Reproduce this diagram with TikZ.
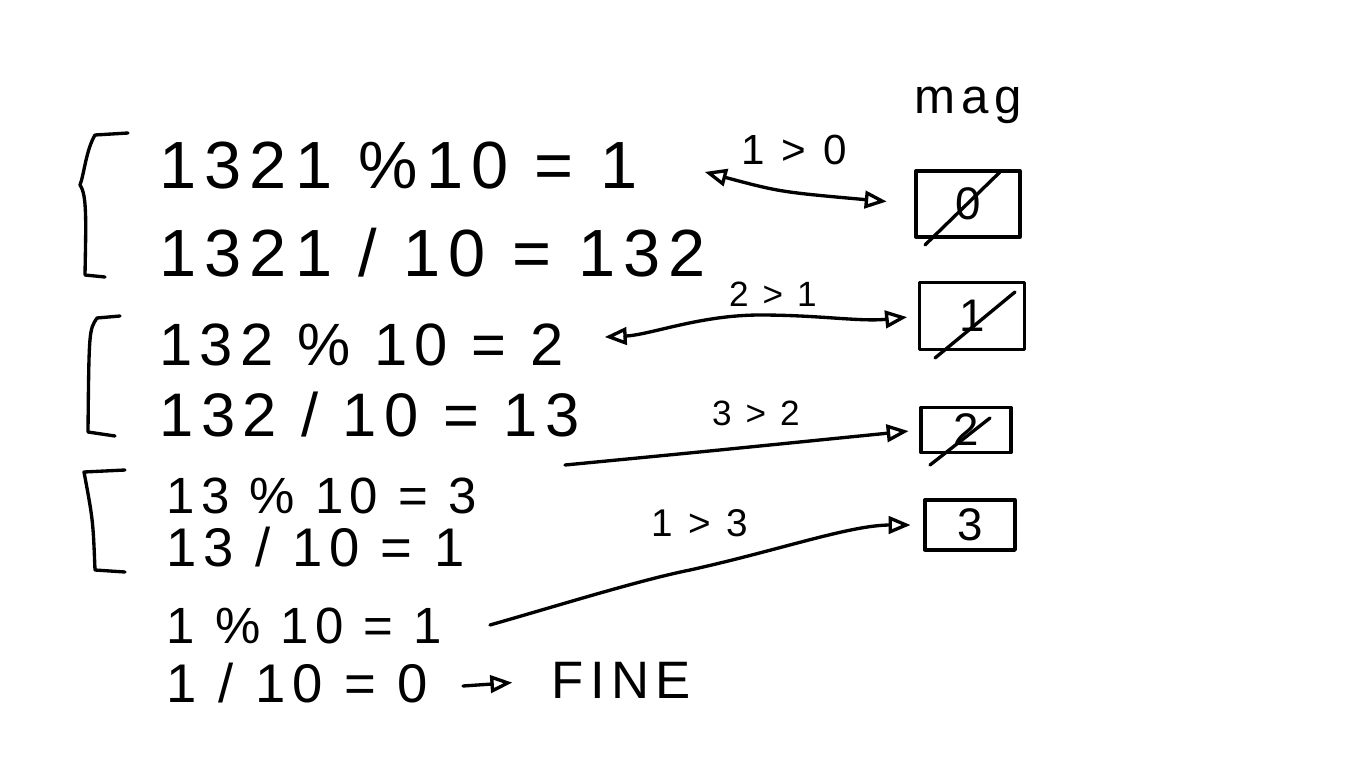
\documentclass[tikz,border=0pt]{standalone}
\usepackage{fontspec}
\setmainfont{Liberation Sans}
\newfontfamily\handfont[LetterSpace=12]{Liberation Sans}
\usetikzlibrary{arrows,calc}
\tikzset{
    >=open triangle 45,
    every path/.style={line width=1.9pt, line cap=round, line join=round},
    eq/.style={anchor=west, inner sep=0pt, font=\handfont\fontsize{#1}{#1}\selectfont},
    cmp/.style={inner sep=0pt, font=\handfont\fontsize{#1}{#1}\selectfont},
    cell/.style={draw, inner sep=0pt, font=\handfont\fontsize{26}{30}\selectfont},
}

\begin{document}
\begin{tikzpicture}[x=0.02cm, y=-0.02cm]
    \useasboundingbox (0,0) rectangle (1366,768);

    \node[eq=38] (eq1) at (158,166) {1321 \%10 = 1};
    \node[eq=38] (eq2) at (158,253) {1321 / 10 = 132};
    \node[eq=34] (eq3) at (158,345) {132 \% 10 = 2};
    \node[eq=35] (eq4) at (158,415) {132 / 10 = 13};
    \node[eq=29] (eq5) at (165,496) {13 \% 10 = 3};
    \node[eq=31] (eq6) at (165,547) {13 / 10 = 1};
    \node[eq=29] (eq7) at (165,626) {1 \% 10 = 1};
    \node[eq=31] (eq8) at (165,683) {1 / 10 = 0};
    \node[eq=30] (fine) at (550,680) {FINE};

    \node[anchor=base, inner sep=0pt, font=\handfont\fontsize{28}{32}\selectfont] (mag) at (968,113) {mag};
    \node[cell, minimum width=2.08cm, minimum height=1.32cm] (box1) at (968,204) {0};
    \node[cell, minimum width=2.1cm, minimum height=1.34cm] (box2) at (972,316) {1};
    \node[cell, minimum width=1.8cm, minimum height=0.9cm] (box3) at (966,430) {2};
    \node[cell, minimum width=1.8cm, minimum height=1cm] (box4) at (970,525) {3};

    \node[cmp=24] (c1) at (794,150) {1 > 0};
    \node[cmp=20] (c2) at (773,294) {2 > 1};
    \node[cmp=20] (c3) at (756,413) {3 > 2};
    \node[cmp=22] (c4) at (700,523) {1 > 3};

    \draw (925,245) -- (1000,172);
    \draw (935,358) -- (1015,292);
    \draw (930,465) -- (990,418);

    \draw (128,133) -- (95,135) .. controls (86,150) and (84,175) .. (80,185)
        .. controls (87,195) and (86,220) .. (85,275) -- (105,277);
    \draw (120,316) -- (97,318) .. controls (89,330) .. (88,432) -- (115,436);
    \draw (125,470) -- (84,472) .. controls (93,520) .. (95,570) -- (125,572);

    \coordinate (s1) at (705,172);
    \coordinate (s2) at (605,337);
    \coordinate (s3) at (565,465);
    \coordinate (s4) at (490,625);
    \coordinate (s5) at (463,686);

    \draw[<->, shorten >=0.56cm] (s1) .. controls (780,192) .. (box1.west);
    \draw[<->, shorten >=0.22cm] (s2) .. controls (650,335) and (700,315) .. (760,315)
        .. controls (820,315) and (860,322) .. (box2.west);
    \draw[->, shorten >=0.22cm] (s3) .. controls (700,452) .. (box3.west);
    \draw[->, shorten >=0.26cm] (s4) .. controls (560,605) and (640,580) .. (690,570)
        .. controls (780,550) and (850,525) .. (box4.west);
    \draw[->, shorten >=0.76cm] (s5) -- (fine.west);
\end{tikzpicture}
\end{document}
